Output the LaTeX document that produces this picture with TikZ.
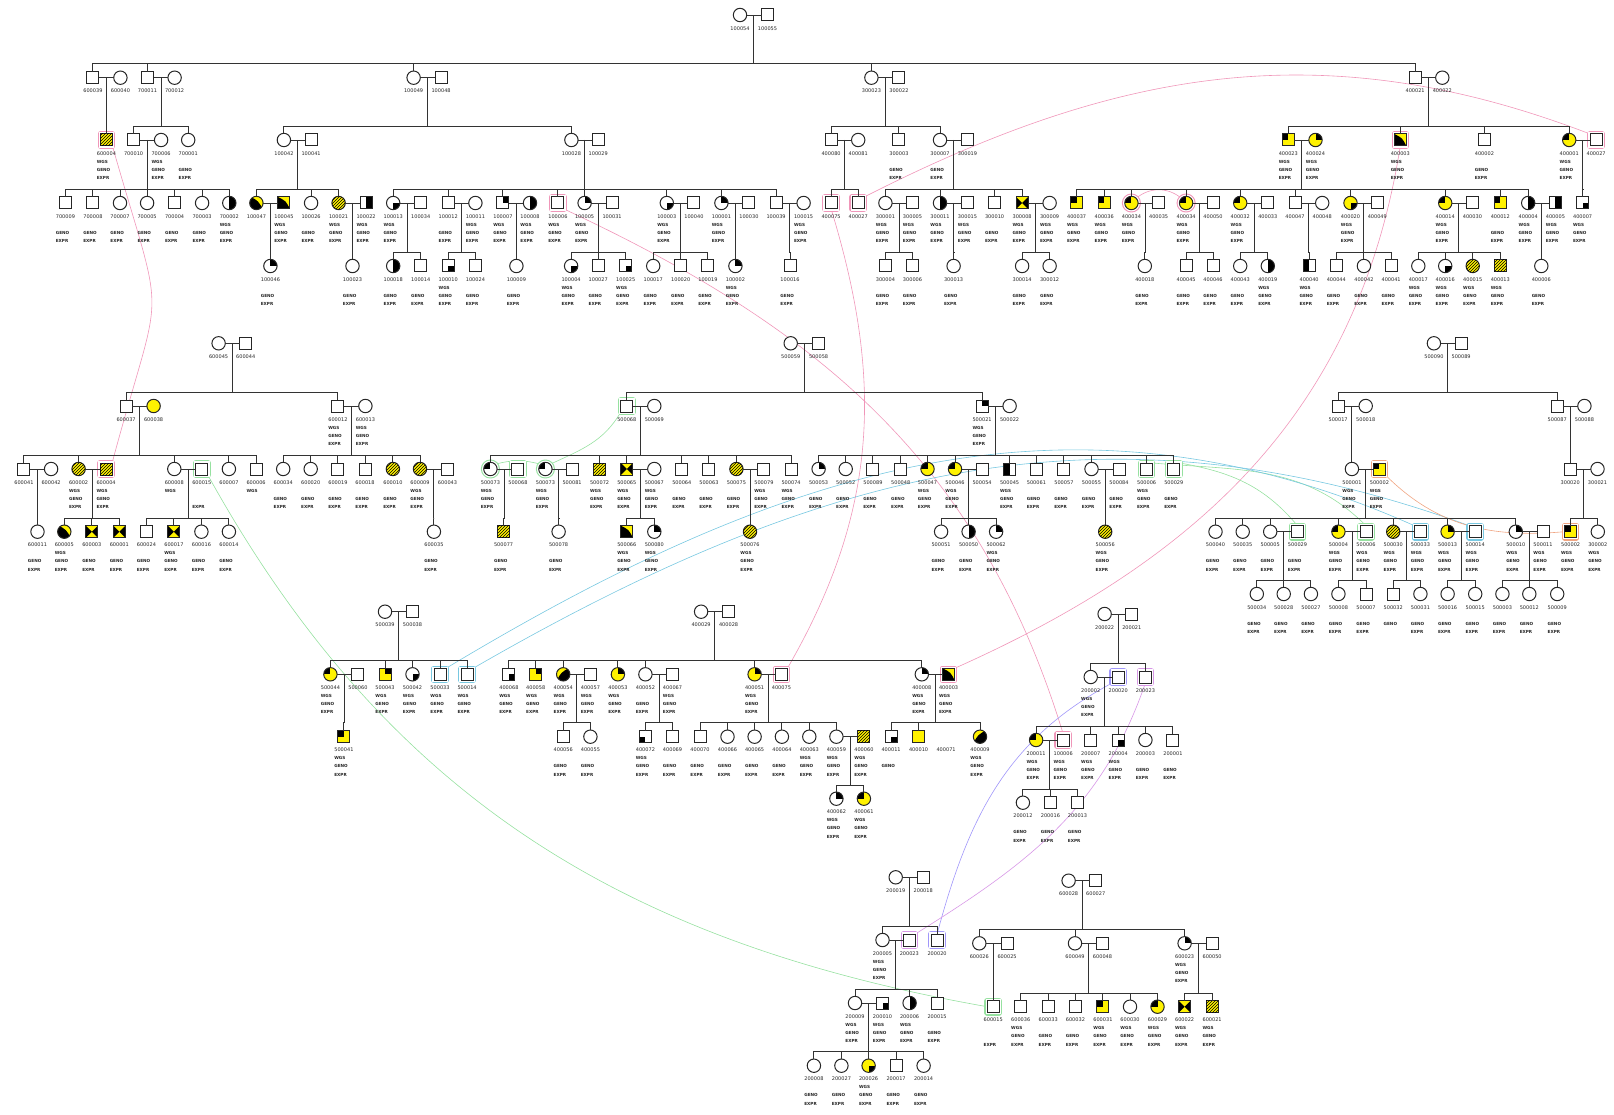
\documentclass[tikz,border=0pt]{standalone}
\usepackage{fontspec}
\setmainfont{DejaVu Sans}
\usetikzlibrary{calc,patterns,backgrounds}

\definecolor{dupPink}{RGB}{240,150,185}
\definecolor{dupGreen}{RGB}{150,225,160}
\definecolor{dupCyan}{RGB}{120,200,225}
\definecolor{dupOrange}{RGB}{240,165,130}
\definecolor{dupBlue}{RGB}{160,150,250}
\definecolor{dupViolet}{RGB}{215,150,230}

\tikzset{
  lin/.style={draw=black!80, line width=0.9pt},
  base/.style={draw=black!85, line width=1pt, fill=white, inner sep=0pt, outer sep=0pt},
  sq/.style={base, rectangle, minimum size=12pt},
  ci/.style={base, circle, minimum size=13.4pt},
  yel/.style={fill=yellow},
  hat/.style={fill=yellow, postaction={pattern=north east lines}},
  qTL/.style={path picture={\fill[black] (path picture bounding box.center) rectangle (path picture bounding box.north west);}},
  qTR/.style={path picture={\fill[black] (path picture bounding box.center) rectangle (path picture bounding box.north east);}},
  qBL/.style={path picture={\fill[black] (path picture bounding box.center) rectangle (path picture bounding box.south west);}},
  qBR/.style={path picture={\fill[black] (path picture bounding box.center) rectangle (path picture bounding box.south east);}},
  hR/.style={path picture={\fill[black] (path picture bounding box.south) rectangle (path picture bounding box.north east);}},
  hL/.style={path picture={\fill[black] (path picture bounding box.south west) rectangle (path picture bounding box.north);}},
  dBL/.style={path picture={\fill[black] (path picture bounding box.north west) .. controls ([xshift=2pt,yshift=2pt]path picture bounding box.center) .. (path picture bounding box.south east) -- (path picture bounding box.south west) -- cycle;}},
  dBR/.style={path picture={\fill[black] (path picture bounding box.north east) .. controls ([xshift=-2pt,yshift=2pt]path picture bounding box.center) .. (path picture bounding box.south west) -- (path picture bounding box.south east) -- cycle;}},
  hgl/.style={fill=yellow, path picture={
    \fill[black] (path picture bounding box.north west) -- (path picture bounding box.center) -- (path picture bounding box.south west) -- cycle;
    \fill[black] (path picture bounding box.north east) -- (path picture bounding box.center) -- (path picture bounding box.south east) -- cycle;}},
  halo/.style={preaction={draw=#1, line width=5.6pt, line join=round}, preaction={draw=white, line width=3.4pt}},
  idlab/.style={inner sep=0pt, font=\fontsize{5}{6}\selectfont, text=black!85},
  flag/.style={inner sep=0pt, anchor=west, font=\bfseries\fontsize{4.2}{5}\selectfont, text=black!85},
  dupP/.style={draw=dupPink, line width=0.6pt},
  dupG/.style={draw=dupGreen, line width=0.6pt},
  dupC/.style={draw=dupCyan, line width=0.6pt},
  dupO/.style={draw=dupOrange, line width=0.6pt},
  dupB/.style={draw=dupBlue, line width=0.6pt},
  dupV/.style={draw=dupViolet, line width=0.6pt}
}

% symbol, id below it, then data flags
\newcommand{\indv}[6]{%
  \node[#4] (#1) at (#2,#3) {};
  \node[idlab] (#1-l) at (#2,#3+13.3) {#5};
  \foreach \f in {#6} {\csname flag\f\endcsname{#1}}%
}
\newcommand{\flagW}[1]{\node[flag] at ([yshift=-8.4pt]#1-l.west) {WGS};}
\newcommand{\flagG}[1]{\node[flag] at ([yshift=-16.4pt]#1-l.west) {GENO};}
\newcommand{\flagE}[1]{\node[flag] at ([yshift=-24.7pt]#1-l.west) {EXPR};}
\newcommand{\flagN}[1]{}
% couple line, descent, sibship line and drops
\newcommand{\brood}[4]{%
  \draw[lin] (#1) -- (#2);
  \coordinate (m) at ($(#1)!0.5!(#2)$);
  \draw[lin] (m) -- (m |- 0,#3);
  \foreach \k in {#4} {\draw[lin] (m |- 0,#3) -- (\k |- 0,#3) -- (\k.north);}
}

\begin{document}
\begin{tikzpicture}[x=1pt,y=-1pt]
\useasboundingbox (0,0) rectangle (1614,1115);

% ---- top pedigree
\indv{p100054}{740}{15}{ci}{100054}{N}
\indv{p100055}{767.5}{15}{sq}{100055}{N}

\indv{p600039}{92.9}{77.7}{sq}{600039}{N}
\indv{p600040}{120.4}{77.7}{ci}{600040}{N}
\indv{p700011}{147.5}{77.7}{sq}{700011}{N}
\indv{p700012}{174.6}{77.7}{ci}{700012}{N}
\indv{p100049}{413.6}{77.7}{ci}{100049}{N}
\indv{p100048}{441.1}{77.7}{sq}{100048}{N}
\indv{p300023}{871.4}{77.7}{ci}{300023}{N}
\indv{p300022}{898.9}{77.7}{sq}{300022}{N}
\indv{p400021}{1415.1}{77.7}{sq}{400021}{N}
\indv{p400022}{1442.3}{77.7}{ci}{400022}{N}

\indv{p600004a}{106.4}{140}{sq,hat,halo=dupPink}{600004}{W,G,E}
\indv{p700010}{133.6}{140}{sq}{700010}{N}
\indv{p700006}{161.1}{140}{ci}{700006}{W,G,E}
\indv{p700001}{188.2}{140}{ci}{700001}{G,E}
\indv{p100042}{283.9}{140}{ci}{100042}{N}
\indv{p100041}{311.1}{140}{sq}{100041}{N}
\indv{p100028}{571.4}{140}{ci}{100028}{N}
\indv{p100029}{598.2}{140}{sq}{100029}{N}
\indv{p400080}{831.1}{140}{sq}{400080}{N}
\indv{p400081}{858.2}{140}{ci}{400081}{N}
\indv{p300003}{898.9}{140}{sq}{300003}{G,E}
\indv{p300007}{940}{140}{ci}{300007}{G,E}
\indv{p300019}{967.5}{140}{sq}{300019}{N}
\indv{p400023}{1288.3}{140}{sq,yel,qTL}{400023}{W,G,E}
\indv{p400024}{1315.5}{140}{ci,yel,qTR}{400024}{W,G,E}
\indv{p400003a}{1400.3}{140}{sq,yel,dBL,halo=dupPink}{400003}{W,G,E}
\indv{p400002}{1484.4}{140}{sq}{400002}{G,E}
\indv{p400001}{1569.2}{140}{ci,yel,qTL}{400001}{W,G,E}
\indv{p400027b}{1596.1}{140}{sq,halo=dupPink}{400027}{N}

\indv{p700009}{65.4}{203}{sq}{700009}{G,E}
\indv{p700008}{92.9}{203}{sq}{700008}{G,E}
\indv{p700007}{120}{203}{ci}{700007}{G,E}
\indv{p700005}{147.1}{203}{ci}{700005}{G,E}
\indv{p700004}{174.6}{203}{sq}{700004}{G,E}
\indv{p700003}{202.1}{203}{ci}{700003}{G,E}
\indv{p700002}{229.3}{203}{ci,hR}{700002}{W,G,E}
\indv{p100047}{256.4}{203}{ci,yel,dBL}{100047}{N}
\indv{p100045}{283.9}{203}{sq,yel,dBL}{100045}{W,G,E}
\indv{p100026}{311.1}{203}{ci}{100026}{G,E}
\indv{p100021}{338.6}{203}{ci,hat}{100021}{W,G,E}
\indv{p100022}{366.1}{203}{sq,hR}{100022}{W,G,E}
\indv{p100013}{393.2}{203}{ci,qBR}{100013}{W,G,E}
\indv{p100034}{420.7}{203}{sq}{100034}{N}
\indv{p100012}{448.2}{203}{sq}{100012}{G,E}
\indv{p100011}{475.4}{203}{ci}{100011}{W,G,E}
\indv{p100007}{502.9}{203}{sq,qTR}{100007}{W,G,E}
\indv{p100008}{530}{203}{ci,hR}{100008}{W,G,E}
\indv{p100006a}{557.9}{203}{sq,halo=dupPink}{100006}{W,G,E}
\indv{p100005}{584.6}{203}{ci,qTR}{100005}{W,G,E}
\indv{p100031}{612.1}{203}{sq}{100031}{N}
\indv{p100003}{666.8}{203}{ci,qBR}{100003}{W,G,E}
\indv{p100040}{693.9}{203}{sq}{100040}{N}
\indv{p100001}{721.4}{203}{ci,qTR}{100001}{W,G,E}
\indv{p100030}{748.9}{203}{sq}{100030}{N}
\indv{p100039}{776.1}{203}{sq}{100039}{N}
\indv{p100015}{803.6}{203}{ci}{100015}{W,G,E}
\indv{p400075a}{831.1}{203}{sq,halo=dupPink}{400075}{N}
\indv{p400027a}{858.2}{203}{sq,halo=dupPink}{400027}{N}
\indv{p300001}{885.4}{203}{ci}{300001}{W,G,E}
\indv{p300005}{912.5}{203}{sq}{300005}{W,G,E}
\indv{p300011}{940}{203}{ci,hR}{300011}{W,G,E}
\indv{p300015}{967.5}{203}{sq}{300015}{W,G,E}
\indv{p300010}{994.6}{203}{sq}{300010}{G,E}
\indv{p300008}{1022.1}{203}{sq,hgl}{300008}{W,G,E}
\indv{p300009}{1049.6}{203}{ci}{300009}{W,G,E}
\indv{p400037}{1076.6}{203}{sq,yel,qTL}{400037}{W,G,E}
\indv{p400036}{1104.2}{203}{sq,yel,qTL}{400036}{W,G,E}
\indv{p400034a}{1131.4}{203}{ci,yel,qTL,halo=dupPink}{400034}{W,G,E}
\indv{p400035}{1158.6}{203}{sq}{400035}{N}
\indv{p400034b}{1186.1}{203}{ci,yel,qTL,halo=dupPink}{400034}{W,G,E}
\indv{p400050}{1213}{203}{sq}{400050}{N}
\indv{p400032}{1240.2}{203}{ci,yel,qTL}{400032}{W,G,E}
\indv{p400033}{1267.8}{203}{sq}{400033}{N}
\indv{p400047}{1295}{203}{sq}{400047}{N}
\indv{p400048}{1322.2}{203}{ci}{400048}{N}
\indv{p400020}{1350.5}{203}{ci,yel,qBR}{400020}{W,G,E}
\indv{p400049}{1377.3}{203}{sq}{400049}{N}
\indv{p400014}{1445.2}{203}{ci,yel,qTL}{400014}{W,G,E}
\indv{p400030}{1472.4}{203}{sq}{400030}{N}
\indv{p400012}{1500.3}{203}{sq,yel,qTL}{400012}{G,E}
\indv{p400004}{1528.2}{203}{ci,hR}{400004}{W,G,E}
\indv{p400005}{1555.4}{203}{sq,hR}{400005}{W,G,E}
\indv{p400007}{1582.6}{203}{sq,qBR}{400007}{W,G,E}

\indv{p100046}{270.4}{266}{ci,qTR}{100046}{G,E}
\indv{p100023}{352.5}{266}{ci}{100023}{G,E}
\indv{p100018}{393.2}{266}{ci,hR}{100018}{G,E}
\indv{p100014}{420.7}{266}{sq}{100014}{G,E}
\indv{p100010}{448.2}{266}{sq,qBR}{100010}{W,G,E}
\indv{p100024}{475.4}{266}{sq}{100024}{G,E}
\indv{p100009}{516.4}{266}{ci}{100009}{G,E}
\indv{p100004}{571.1}{266}{ci,qBR}{100004}{W,G,E}
\indv{p100027}{598.2}{266}{sq}{100027}{G,E}
\indv{p100025}{625.7}{266}{sq,qBR}{100025}{W,G,E}
\indv{p100017}{653.2}{266}{ci}{100017}{G,E}
\indv{p100020}{680.7}{266}{sq}{100020}{G,E}
\indv{p100019}{707.9}{266}{sq}{100019}{G,E}
\indv{p100002}{735.4}{266}{ci,qTR}{100002}{W,G,E}
\indv{p100016}{790}{266}{sq}{100016}{G,E}
\indv{p300004}{885.4}{266}{sq}{300004}{G,E}
\indv{p300006}{912.5}{266}{sq}{300006}{G,E}
\indv{p300013}{953.6}{266}{ci}{300013}{G,E}
\indv{p300014}{1022.1}{266}{ci}{300014}{G,E}
\indv{p300012}{1049.6}{266}{ci}{300012}{G,E}
\indv{p400018}{1144.8}{266}{ci}{400018}{G,E}
\indv{p400045}{1186.1}{266}{sq}{400045}{G,E}
\indv{p400046}{1213}{266}{sq}{400046}{G,E}
\indv{p400043}{1240.2}{266}{ci}{400043}{G,E}
\indv{p400019}{1267.8}{266}{ci,hR}{400019}{W,G,E}
\indv{p400040}{1309.1}{266}{sq,hL}{400040}{W,G,E}
\indv{p400044}{1336.3}{266}{sq}{400044}{G,E}
\indv{p400042}{1363.9}{266}{ci}{400042}{G,E}
\indv{p400041}{1391.1}{266}{sq}{400041}{G,E}
\indv{p400017}{1418.3}{266}{ci}{400017}{W,G,E}
\indv{p400016}{1445.2}{266}{ci,qBR}{400016}{W,G,E}
\indv{p400015}{1472.7}{266}{ci,hat}{400015}{W,G,E}
\indv{p400013}{1500.3}{266}{sq,hat}{400013}{W,G,E}
\indv{p400006}{1541.3}{266}{ci}{400006}{G,E}

\brood{p100054}{p100055}{63.3}{p600039,p700011,p100049,p300023,p400021}
\brood{p600039}{p600040}{126.7}{p600004a}
\brood{p700011}{p700012}{126.7}{p700010,p700001}
\brood{p100049}{p100048}{126.7}{p100042,p100028}
\brood{p300023}{p300022}{126.7}{p400080,p300003,p300007}
\brood{p400021}{p400022}{126.7}{p400023,p400003a,p400002,p400001}
\brood{p700010}{p700006}{189.7}{p700009,p700008,p700007,p700005,p700004,p700003,p700002}
\brood{p100042}{p100041}{189.7}{p100047,p100026,p100021}
\brood{p100028}{p100029}{189.7}{p100013,p100012,p100007,p100006a,p100005,p100003,p100001,p100039}
\brood{p400080}{p400081}{189.7}{p400075a,p400027a}
\brood{p300007}{p300019}{189.7}{p300001,p300011,p300010,p300008}
\brood{p400023}{p400024}{189.7}{p400037,p400036,p400034a,p400034b,p400032,p400047,p400020,p400014,p400012,p400004}
\brood{p400001}{p400027b}{189.7}{p400007}
\brood{p100047}{p100045}{252.7}{p100046}
\brood{p100021}{p100022}{252.7}{p100023}
\brood{p100013}{p100034}{252.7}{p100018,p100014}
\brood{p100012}{p100011}{252.7}{p100010,p100024}
\brood{p100007}{p100008}{252.7}{p100009}
\brood{p100005}{p100031}{252.7}{p100004,p100027,p100025}
\brood{p100003}{p100040}{252.7}{p100017,p100020,p100019}
\brood{p100001}{p100030}{252.7}{p100002}
\brood{p100039}{p100015}{252.7}{p100016}
\brood{p300001}{p300005}{252.7}{p300004,p300006}
\brood{p300011}{p300015}{252.7}{p300013}
\brood{p300008}{p300009}{252.7}{p300014,p300012}
\brood{p400034a}{p400035}{252.7}{p400018}
\brood{p400034b}{p400050}{252.7}{p400045,p400046}
\brood{p400032}{p400033}{252.7}{p400043,p400019}
\brood{p400047}{p400048}{252.7}{p400040}
\brood{p400020}{p400049}{252.7}{p400044,p400042,p400041}
\brood{p400014}{p400030}{252.7}{p400017,p400016,p400015,p400013}
\brood{p400004}{p400005}{252.7}{p400006}

% ---- 600045 family
\indv{p600045}{218.6}{343.3}{ci}{600045}{N}
\indv{p600044}{245.7}{343.3}{sq}{600044}{N}
\indv{p600037}{126.1}{406}{sq}{600037}{N}
\indv{p600038}{153.6}{406}{ci,yel}{600038}{N}
\indv{p600012}{337.9}{406}{sq}{600012}{W,G,E}
\indv{p600013}{365.4}{406}{ci}{600013}{W,G,E}
\indv{p600041}{23.9}{469}{sq}{600041}{N}
\indv{p600042}{51.1}{469}{ci}{600042}{N}
\indv{p600002}{78.6}{469}{ci,hat}{600002}{W,G,E}
\indv{p600004b}{106.1}{469}{sq,hat,halo=dupPink}{600004}{W,G,E}
\indv{p600008}{174.3}{469}{ci}{600008}{W}
\indv{p600015a}{201.8}{469}{sq,halo=dupGreen}{600015}{E}
\indv{p600007}{228.9}{469}{ci}{600007}{N}
\indv{p600006}{256.1}{469}{sq}{600006}{W}
\indv{p600034}{283.2}{469}{ci}{600034}{G,E}
\indv{p600020}{310.7}{469}{ci}{600020}{G,E}
\indv{p600019}{337.9}{469}{sq}{600019}{G,E}
\indv{p600018}{365}{469}{sq}{600018}{G,E}
\indv{p600010}{392.9}{469}{ci,hat}{600010}{G,E}
\indv{p600009}{420}{469}{ci,hat}{600009}{W,G,E}
\indv{p600043}{447.5}{469}{sq}{600043}{N}
\indv{p600011}{37.5}{531.7}{ci}{600011}{G,E}
\indv{p600005}{64.3}{531.7}{ci,yel,dBL}{600005}{W,G,E}
\indv{p600003}{91.8}{531.7}{sq,hgl}{600003}{G,E}
\indv{p600001}{119.3}{531.7}{sq,hgl}{600001}{G,E}
\indv{p600024}{146.4}{531.7}{sq}{600024}{G,E}
\indv{p600017}{173.9}{531.7}{sq,hgl}{600017}{W,G,E}
\indv{p600016}{201.4}{531.7}{ci}{600016}{G,E}
\indv{p600014}{228.9}{531.7}{ci}{600014}{G,E}
\indv{p600035}{433.9}{531.7}{ci}{600035}{G,E}

\brood{p600045}{p600044}{392.3}{p600037,p600012}
\brood{p600037}{p600038}{455}{p600041,p600002,p600008,p600007,p600006}
\brood{p600012}{p600013}{455}{p600034,p600020,p600019,p600018,p600010,p600009}
\brood{p600041}{p600042}{518.3}{p600011}
\brood{p600002}{p600004b}{518.3}{p600005,p600003,p600001}
\brood{p600008}{p600015a}{518.3}{p600024,p600017,p600016,p600014}
\brood{p600009}{p600043}{518.3}{p600035}

% ---- 500059 family
\indv{p500059}{790.7}{343.3}{ci}{500059}{N}
\indv{p500058}{818.6}{343.3}{sq}{500058}{N}
\indv{p500068a}{626.8}{406}{sq,halo=dupGreen}{500068}{N}
\indv{p500069}{654.3}{406}{ci}{500069}{N}
\indv{p500021}{982.1}{406}{sq,qTR}{500021}{W,G,E}
\indv{p500022}{1009.6}{406}{ci}{500022}{N}
\indv{p500073a}{490.4}{469}{ci,qTL,halo=dupGreen}{500073}{W,G,E}
\indv{p500068b}{517.9}{469}{sq,halo=dupGreen}{500068}{N}
\indv{p500073b}{545.4}{469}{ci,qTL,halo=dupGreen}{500073}{W,G,E}
\indv{p500081}{572.1}{469}{sq}{500081}{N}
\indv{p500072}{599.6}{469}{sq,hat}{500072}{W,G,E}
\indv{p500065}{626.8}{469}{sq,hgl}{500065}{W,G,E}
\indv{p500067}{654.3}{469}{ci}{500067}{W,G,E}
\indv{p500064}{681.8}{469}{sq}{500064}{G,E}
\indv{p500063}{708.9}{469}{sq}{500063}{G,E}
\indv{p500075}{736.4}{469}{ci,hat}{500075}{G,E}
\indv{p500079}{763.9}{469}{sq}{500079}{W,G,E}
\indv{p500074}{791.1}{469}{sq}{500074}{W,G,E}
\indv{p500053}{818.6}{469}{ci,qTR}{500053}{G,E}
\indv{p500052}{845.7}{469}{ci}{500052}{G,E}
\indv{p500089x}{872.9}{469}{sq}{500089}{G,E}
\indv{p500048}{900.7}{469}{sq}{500048}{G,E}
\indv{p500047}{927.5}{469}{ci,yel,qTL}{500047}{W,G,E}
\indv{p500046}{955}{469}{ci,yel,qTL}{500046}{W,G,E}
\indv{p500054}{982.1}{469}{sq}{500054}{N}
\indv{p500045}{1009.6}{469}{sq,hL}{500045}{W,G,E}
\indv{p500061}{1036.4}{469}{sq}{500061}{G,E}
\indv{p500057}{1063.9}{469}{sq}{500057}{G,E}
\indv{p500055}{1091.5}{469}{ci}{500055}{G,E}
\indv{p500084}{1119}{469}{sq}{500084}{G,E}
\indv{p500006a}{1146.6}{469}{sq,halo=dupGreen}{500006}{W,G,E}
\indv{p500029a}{1173.8}{469}{sq,halo=dupGreen}{500029}{G,E}
\indv{p500077}{503.6}{531.7}{sq,hat}{500077}{G,E}
\indv{p500078}{558.6}{531.7}{ci}{500078}{G,E}
\indv{p500066}{626.8}{531.7}{sq,yel,dBL}{500066}{W,G,E}
\indv{p500080}{654.3}{531.7}{ci,qTR}{500080}{W,G,E}
\indv{p500076}{750}{531.7}{ci,hat}{500076}{W,G,E}
\indv{p500051}{941.1}{531.7}{ci}{500051}{G,E}
\indv{p500050}{968.6}{531.7}{ci,hR}{500050}{G,E}
\indv{p500062}{996.1}{531.7}{ci,qTR}{500062}{W,G,E}
\indv{p500056}{1105.2}{531.7}{ci,hat}{500056}{W,G,E}

\brood{p500059}{p500058}{392.3}{p500068a,p500021}
\brood{p500068a}{p500069}{455}{p500073a,p500072,p500065,p500064,p500063,p500075,p500074}
\brood{p500021}{p500022}{455}{p500053,p500052,p500089x,p500048,p500047,p500046,p500045,p500061,p500057,p500055,p500006a,p500029a}
\brood{p500073a}{p500068b}{518.3}{p500077}
\brood{p500073b}{p500081}{518.3}{p500078}
\brood{p500065}{p500067}{518.3}{p500066,p500080}
\brood{p500075}{p500079}{518.3}{p500076}
\brood{p500046}{p500054}{518.3}{p500051,p500050,p500062}
\brood{p500055}{p500084}{518.3}{p500056}

% ---- 500090 family
\indv{p500090}{1433.9}{343.3}{ci}{500090}{N}
\indv{p500089}{1461.1}{343.3}{sq}{500089}{N}
\indv{p500017}{1338.1}{406}{sq}{500017}{N}
\indv{p500018}{1365.7}{406}{ci}{500018}{N}
\indv{p500087}{1557.2}{406}{sq}{500087}{N}
\indv{p500088}{1584.4}{406}{ci}{500088}{N}
\indv{p500001}{1351.9}{469}{ci}{500001}{W,G,E}
\indv{p500002a}{1379.4}{469}{sq,yel,qTL,halo=dupOrange}{500002}{W,G,E}
\indv{p300020}{1570.2}{469}{sq}{300020}{N}
\indv{p300021}{1597.5}{469}{ci}{300021}{N}
\indv{p500040}{1215.5}{531.7}{ci}{500040}{G,E}
\indv{p500035}{1242.7}{531.7}{ci}{500035}{G,E}
\indv{p500005}{1270.2}{531.7}{ci}{500005}{G,E}
\indv{p500029b}{1297.5}{531.7}{sq,halo=dupGreen}{500029}{G,E}
\indv{p500004}{1338.4}{531.7}{ci,yel,qTL}{500004}{W,G,E}
\indv{p500006b}{1366}{531.7}{sq,halo=dupGreen}{500006}{W,G,E}
\indv{p500030}{1393.2}{531.7}{ci,hat}{500030}{W,G,E}
\indv{p500033b}{1420.4}{531.7}{sq,halo=dupCyan}{500033}{W,G,E}
\indv{p500013}{1447.6}{531.7}{ci,yel,qTR}{500013}{W,G,E}
\indv{p500014b}{1475.2}{531.7}{sq,halo=dupCyan}{500014}{W,G,E}
\indv{p500010}{1515.8}{531.7}{ci,qTR}{500010}{W,G,E}
\indv{p500011}{1543}{531.7}{sq}{500011}{W,G,E}
\indv{p500002b}{1570.6}{531.7}{sq,yel,qTL,halo=dupOrange}{500002}{W,G,E}
\indv{p300002}{1597.8}{531.7}{ci}{300002}{W,G,E}
\indv{p500034}{1256.8}{594}{ci}{500034}{G,E}
\indv{p500028}{1283.7}{594}{ci}{500028}{G,E}
\indv{p500027}{1310.9}{594}{ci}{500027}{G,E}
\indv{p500008}{1338.4}{594}{ci}{500008}{G,E}
\indv{p500007}{1366}{594}{sq}{500007}{G,E}
\indv{p500032}{1393.2}{594}{sq}{500032}{G}
\indv{p500031}{1420.4}{594}{ci}{500031}{G,E}
\indv{p500016}{1447.6}{594}{ci}{500016}{G,E}
\indv{p500015}{1475.2}{594}{ci}{500015}{G,E}
\indv{p500003}{1502.4}{594}{ci}{500003}{G,E}
\indv{p500012}{1529.3}{594}{ci}{500012}{G,E}
\indv{p500009}{1557.2}{594}{ci}{500009}{G,E}

\brood{p500090}{p500089}{392.3}{p500017,p500087}
\brood{p500017}{p500018}{455}{p500001}
\brood{p500087}{p500088}{455}{p300020}
\brood{p500001}{p500002a}{518.3}{p500040,p500035,p500005,p500004,p500030,p500013,p500010}
\brood{p300020}{p300021}{518.3}{p500002b,p300002}
\brood{p500005}{p500029b}{580.7}{p500034,p500028,p500027}
\brood{p500004}{p500006b}{580.7}{p500008,p500007}
\brood{p500030}{p500033b}{580.7}{p500032,p500031}
\brood{p500013}{p500014b}{580.7}{p500016,p500015}
\brood{p500010}{p500011}{580.7}{p500003,p500012,p500009}

% ---- 500039 family
\indv{p500039}{385}{611.7}{ci}{500039}{N}
\indv{p500038}{412.5}{611.7}{sq}{500038}{N}
\indv{p500044}{330.4}{674.3}{ci,yel,qTL}{500044}{W,G,E}
\indv{p500060}{357.9}{674.3}{sq}{500060}{N}
\indv{p500043}{385}{674.3}{sq,yel,qTR}{500043}{W,G,E}
\indv{p500042}{412.5}{674.3}{ci,qBR}{500042}{W,G,E}
\indv{p500033a}{440}{674.3}{sq,halo=dupCyan}{500033}{W,G,E}
\indv{p500014a}{467.1}{674.3}{sq,halo=dupCyan}{500014}{W,G,E}
\indv{p500041}{343.9}{736.7}{sq,yel,qTL}{500041}{W,G,E}

\brood{p500039}{p500038}{660}{p500044,p500043,p500042,p500033a,p500014a}
\brood{p500044}{p500060}{722.3}{p500041}

% ---- 400029 family
\indv{p400029}{701.1}{611.7}{ci}{400029}{N}
\indv{p400028}{728.6}{611.7}{sq}{400028}{N}
\indv{p400068}{508.9}{674.3}{sq,qBR}{400068}{W,G,E}
\indv{p400058}{535.7}{674.3}{sq,yel,qTR}{400058}{W,G,E}
\indv{p400054}{563.2}{674.3}{ci,yel,dBR}{400054}{W,G,E}
\indv{p400057}{590.4}{674.3}{sq}{400057}{W,G,E}
\indv{p400053}{617.9}{674.3}{ci,yel,qTR}{400053}{W,G,E}
\indv{p400052}{645.4}{674.3}{ci}{400052}{G,E}
\indv{p400067}{672.5}{674.3}{sq}{400067}{W,G,E}
\indv{p400051}{754.6}{674.3}{ci,yel,qTR}{400051}{W,G,E}
\indv{p400075b}{781.4}{674.3}{sq,halo=dupPink}{400075}{N}
\indv{p400008}{921.8}{674.3}{ci,qTR}{400008}{W,G,E}
\indv{p400003b}{948.6}{674.3}{sq,yel,dBL,halo=dupPink}{400003}{W,G,E}
\indv{p400056}{563.2}{736.7}{sq}{400056}{G,E}
\indv{p400055}{590.4}{736.7}{ci}{400055}{G,E}
\indv{p400072}{645.4}{736.7}{sq,qBL}{400072}{W,G,E}
\indv{p400069}{672.5}{736.7}{sq}{400069}{G,E}
\indv{p400070}{700}{736.7}{sq}{400070}{G,E}
\indv{p400066}{727.5}{736.7}{ci}{400066}{G,E}
\indv{p400065}{754.6}{736.7}{ci}{400065}{G,E}
\indv{p400064}{781.9}{736.7}{ci}{400064}{G,E}
\indv{p400063}{809.3}{736.7}{ci}{400063}{W,G,E}
\indv{p400059}{836.4}{736.7}{ci}{400059}{W,G,E}
\indv{p400060}{863.9}{736.7}{sq,hat}{400060}{W,G,E}
\indv{p400011}{891.1}{736.7}{sq,qBR}{400011}{G}
\indv{p400010}{918.6}{736.7}{sq,yel}{400010}{N}
\node[idlab] (l400071) at (946.1,750) {400071};
\indv{p400009}{980}{736.7}{ci,yel,dBR}{400009}{W,G,E}
\indv{p400062}{836.4}{798.7}{ci,qTR}{400062}{W,G,E}
\indv{p400061}{863.9}{798.7}{ci,yel,qTL}{400061}{W,G,E}

\brood{p400029}{p400028}{660}{p400068,p400058,p400054,p400053,p400052,p400051,p400008}
\brood{p400054}{p400057}{722.3}{p400056,p400055}
\brood{p400052}{p400067}{722.3}{p400072,p400069}
\brood{p400051}{p400075b}{722.3}{p400070,p400066,p400065,p400064,p400063,p400059}
\brood{p400059}{p400060}{785.7}{p400062,p400061}
\brood{p400008}{p400003b}{722.3}{p400011,p400010,p400009}

% ---- 200022 family
\indv{p200022}{1104.6}{614}{ci}{200022}{N}
\indv{p200021}{1131.8}{614}{sq}{200021}{N}
\indv{p200002}{1090.7}{677}{ci}{200002}{W,G,E}
\indv{p200020a}{1118.2}{677}{sq,halo=dupBlue}{200020}{N}
\indv{p200023a}{1145.4}{677}{sq,halo=dupViolet}{200023}{N}
\indv{p200011}{1036.1}{740}{ci,yel,qTL}{200011}{W,G,E}
\indv{p100006b}{1063.2}{740}{sq,halo=dupPink}{100006}{W,G,E}
\indv{p200007}{1090.7}{740}{sq}{200007}{W,G,E}
\indv{p200004}{1118.2}{740}{sq,qBR}{200004}{W,G,E}
\indv{p200003}{1145.4}{740}{ci}{200003}{G,E}
\indv{p200001}{1172.9}{740}{sq}{200001}{G,E}
\indv{p200012}{1022.9}{802.7}{ci}{200012}{G,E}
\indv{p200016}{1050.4}{802.7}{sq}{200016}{G,E}
\indv{p200013}{1077.5}{802.7}{sq}{200013}{G,E}

\brood{p200022}{p200021}{663.7}{p200002,p200023a}
\brood{p200002}{p200020a}{726}{p200011,p200007,p200004,p200003,p200001}
\brood{p200011}{p100006b}{789}{p200012,p200016,p200013}

% ---- 200019 family
\indv{p200019}{895.7}{877.3}{ci}{200019}{N}
\indv{p200018}{923.2}{877.3}{sq}{200018}{N}
\indv{p200005}{882.5}{940}{ci}{200005}{W,G,E}
\indv{p200023b}{909.3}{940}{sq,halo=dupViolet}{200023}{N}
\indv{p200020b}{937.1}{940}{sq,halo=dupBlue}{200020}{N}
\indv{p200009}{855}{1003}{ci}{200009}{W,G,E}
\indv{p200010}{882.5}{1003}{sq,qBR}{200010}{W,G,E}
\indv{p200006}{909.6}{1003}{ci,hR}{200006}{W,G,E}
\indv{p200015}{937.1}{1003}{sq}{200015}{G,E}
\indv{p200008}{813.9}{1065.7}{ci}{200008}{G,E}
\indv{p200027}{841.4}{1065.7}{ci}{200027}{G,E}
\indv{p200026}{868.6}{1065.7}{ci,yel,qBR}{200026}{W,G,E}
\indv{p200017}{896.1}{1065.7}{sq}{200017}{G,E}
\indv{p200014}{923.6}{1065.7}{ci}{200014}{G,E}

\brood{p200019}{p200018}{926.7}{p200005,p200020b}
\brood{p200005}{p200023b}{989}{p200009,p200006,p200015}
\brood{p200009}{p200010}{1051.7}{p200008,p200027,p200026,p200017,p200014}

% ---- 600028 family
\indv{p600028}{1068.6}{880.7}{ci}{600028}{N}
\indv{p600027}{1095.7}{880.7}{sq}{600027}{N}
\indv{p600026}{979.3}{943.3}{ci}{600026}{N}
\indv{p600025}{1007.1}{943.3}{sq}{600025}{N}
\indv{p600049}{1075}{943.3}{ci}{600049}{N}
\indv{p600048}{1102.5}{943.3}{sq}{600048}{N}
\indv{p600023}{1184.6}{943.3}{ci,qTR}{600023}{W,G,E}
\indv{p600050}{1212.1}{943.3}{sq}{600050}{N}
\indv{p600015b}{993.2}{1006.7}{sq,halo=dupGreen}{600015}{E}
\indv{p600036}{1020.7}{1006.7}{sq}{600036}{W,G,E}
\indv{p600033}{1048.2}{1006.7}{sq}{600033}{G,E}
\indv{p600032}{1075.4}{1006.7}{sq}{600032}{G,E}
\indv{p600031}{1102.9}{1006.7}{sq,yel,qTL}{600031}{W,G,E}
\indv{p600030}{1130}{1006.7}{ci}{600030}{W,G,E}
\indv{p600029}{1157.5}{1006.7}{ci,yel,qTL}{600029}{W,G,E}
\indv{p600022}{1184.6}{1006.7}{sq,hgl}{600022}{W,G,E}
\indv{p600021}{1212.1}{1006.7}{sq,hat}{600021}{W,G,E}

\brood{p600028}{p600027}{929.7}{p600026,p600049,p600023}
\brood{p600026}{p600025}{993.3}{p600015b}
\brood{p600049}{p600048}{993.3}{p600036,p600033,p600032,p600031,p600030,p600029}
\brood{p600023}{p600050}{993.3}{p600022,p600021}

% ---- links between repeated individuals
\begin{pgfonlayer}{background}
\draw[dupP] (p600004a.south east) to[out=-74,in=75,looseness=1.6] (p600004b.north east);
\draw[dupP] (p100006a.south east) to[out=-25,in=107] (p100006b.north);
\draw[dupP] (p400075a.south) to[out=-73,in=60] (p400075b.north east);
\draw[dupP] (p400027a.north east) to[out=27,in=159] (p400027b.north west);
\draw[dupP] (p400003a.south) to[out=-99,in=24] (p400003b.north east);
\draw[dupP] (p400034a.north east) to[bend left=40] (p400034b.north west);
\draw[dupG] (p600015a.south east) to[out=-61,in=170] (p600015b.west);
\draw[dupG] (p500068a.south west) to[out=-120,in=25] (p500073b.north east);
\draw[dupG] (p500073a.north east) to[bend left=15] (p500073b.north west);
\draw[dupG] (p500006a.north east) to[out=-5,in=135] (p500006b.north);
\draw[dupG] (p500029a.north east) to[out=-10,in=130] (p500029b.north);
\draw[dupC] (p500033a.north east) to[out=31,in=156] (p500033b.north west);
\draw[dupC] (p500014a.north east) to[out=30,in=160] (p500014b.north west);
\draw[dupO] (p500002a.south east) to[out=-45,in=185] (p500002b.west);
\draw[dupB] (p200020a.south west) to[out=-152,in=75] (p200020b.north);
\draw[dupV] (p200023a.south) to[out=-109,in=32] (p200023b.north east);
\end{pgfonlayer}
\end{tikzpicture}
\end{document}
